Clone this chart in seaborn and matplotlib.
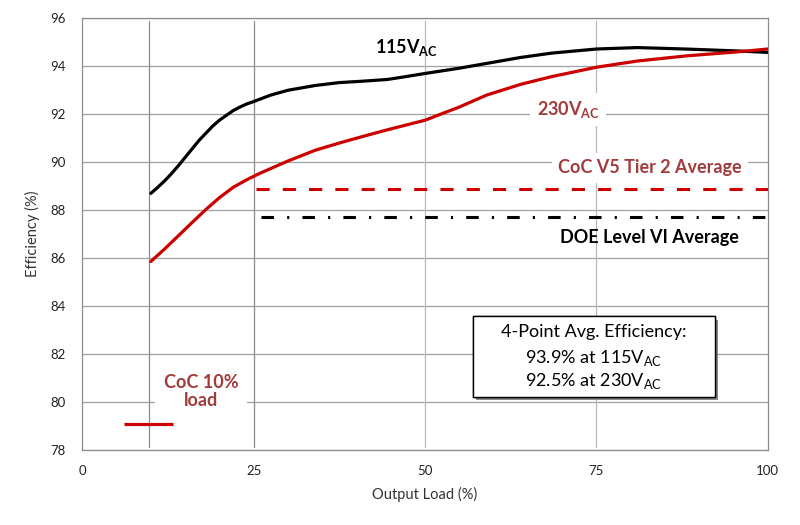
import matplotlib
matplotlib.use("Agg")
import matplotlib.pyplot as plt
import matplotlib.patheffects as pe
from matplotlib.patches import Rectangle
import pandas as pd
import seaborn as sns

# ── Data ─────────────────────────────────────────────────────────────────────
load_115 = [10, 11, 12, 13, 14, 15, 16, 17, 18, 19, 20, 21, 22, 23, 24, 25,
            27.5, 30, 34, 37.5, 41, 44.5, 47, 50, 55, 59, 64, 68.5, 75, 81,
            88, 95.5, 100]
eff_115 = [88.7, 88.95, 89.22, 89.52, 89.85, 90.2, 90.55, 90.9, 91.2, 91.5,
           91.75, 91.95, 92.15, 92.3, 92.43, 92.53, 92.8, 93.0, 93.2, 93.32,
           93.38, 93.45, 93.56, 93.7, 93.92, 94.12, 94.37, 94.55, 94.72, 94.78,
           94.72, 94.64, 94.58]

load_230 = [10, 12, 14, 16, 18, 20, 22, 24, 26, 28, 30, 34, 37.5, 41, 44.5,
            50, 55, 59, 64, 68.5, 75, 81, 88, 95.5, 100]
eff_230 = [85.86, 86.38, 86.93, 87.48, 88.02, 88.52, 88.95, 89.27, 89.55, 89.8,
           90.05, 90.5, 90.8, 91.08, 91.35, 91.75, 92.3, 92.8, 93.25, 93.57,
           93.96, 94.22, 94.43, 94.6, 94.72]

coc_tier2_avg = 88.9
doe_level6_avg = 87.7
avg_line_start = [25.4, 26.0]           # load where the average lines begin
coc_10_load = [6.1, 13.3]
coc_10_eff = 79.1

summary_lines = ["4-Point Avg. Efficiency:",
                 "93.9% at 115V$_{\\mathrm{AC}}$",
                 "92.5% at 230V$_{\\mathrm{AC}}$"]

x_ticks = [0, 25, 50, 75, 100]
y_ticks = [78, 80, 82, 84, 86, 88, 90, 92, 94, 96]

red = "#cc0000"
label_red = "#a23b3b"

df = pd.DataFrame({
    "load": load_115 + load_230,
    "eff": eff_115 + eff_230,
    "vac": ["115"] * len(load_115) + ["230"] * len(load_230),
})

# ── Style ────────────────────────────────────────────────────────────────────
sns.set_style("white")
plt.rcParams["font.family"] = ["Lato", "DejaVu Sans"]
plt.rcParams["mathtext.fontset"] = "custom"
plt.rcParams["mathtext.rm"] = "Lato"
plt.rcParams["mathtext.bf"] = "Lato:bold"

fig = plt.figure(figsize=(8, 5.25), dpi=100)
ax = fig.add_axes([0.1029, 0.1429, 0.8567, 0.8222])

sns.lineplot(data=df, x="load", y="eff", hue="vac",
             palette={"115": "black", "230": red},
             linewidth=2.3, legend=False, ax=ax, zorder=4)

# average limit lines
ax.plot([avg_line_start[0], 100], [coc_tier2_avg] * 2, color=red, lw=2.2,
        dashes=(4.3, 4.3), zorder=4)
ax.plot([avg_line_start[1], 100], [doe_level6_avg] * 2, color="black", lw=2.2,
        dashes=(4.1, 4.3, 0.7, 4.3), zorder=4)
ax.plot(coc_10_load, [coc_10_eff] * 2, color=red, lw=2.3, zorder=5,
        solid_capstyle="butt")

# axes
ax.set_xlim(0, 100)
ax.set_ylim(78, 96)
ax.set_xticks(x_ticks)
ax.set_yticks(y_ticks)
ax.grid(True, axis="y", color="#a0a0a0", lw=0.9)
for xv, c in zip([9.7, 25, 50, 75], ["#8c8c8c", "#8c8c8c", "#b8b8b8", "#b8b8b8"]):
    ax.axvline(xv, ymin=0.007, ymax=0.993, color=c, lw=0.9, zorder=1)
ax.set_axisbelow(True)
for s in ax.spines.values():
    s.set_color("#8c8c8c")
    s.set_linewidth(0.9)
ax.tick_params(length=0, labelsize=9.5, colors="#222222")
ax.tick_params(axis="y", pad=12)
ax.tick_params(axis="x", pad=11)
ax.set_xlabel("Output Load (%)", fontsize=10.5, color="#333333", labelpad=7)
ax.set_ylabel("Efficiency (%)", fontsize=10.5, color="#333333", labelpad=7)

# ── Annotations ──────────────────────────────────────────────────────────────
white_box = dict(boxstyle="square,pad=0.35", fc="white", ec="none")
ax.text(47.3, 94.54, "115V$_{\\mathbf{AC}}$", fontsize=13, fontweight="bold",
        ha="center", va="baseline", color="black", zorder=3)
ax.text(70.9, 91.97, "230V$_{\\mathbf{AC}}$", fontsize=13, fontweight="bold",
        ha="center", va="baseline", color=label_red, zorder=3, bbox=white_box)
ax.text(82.8, 89.54, "CoC V5 Tier 2 Average", fontsize=13, fontweight="bold",
        ha="center", va="baseline", color=label_red, zorder=3, bbox=white_box)
ax.text(82.7, 86.63, "DOE Level VI Average", fontsize=13, fontweight="bold",
        ha="center", va="baseline", color="black", zorder=3)
ax.text(17.3, 80.45, "CoC 10%\nload", fontsize=13, fontweight="bold",
        ha="center", va="center", color=label_red, zorder=3, linespacing=1.05,
        bbox=dict(boxstyle="square,pad=0.5", fc="white", ec="none"))

# summary box with drop shadow
box = Rectangle((57.0, 80.23), 35.3, 3.34, fc="white", ec="black", lw=1.0,
                zorder=6,
                path_effects=[pe.withSimplePatchShadow(offset=(2.5, -2.5),
                                                       shadow_rgbFace="#7f7f7f",
                                                       alpha=0.9),
                              pe.Normal()])
ax.add_patch(box)
for y, txt in zip([82.71, 81.63, 80.65], summary_lines):
    ax.text(74.65, y, txt, fontsize=13, ha="center", va="baseline",
            color="black", zorder=7)

plt.savefig("out.png", dpi=100)
